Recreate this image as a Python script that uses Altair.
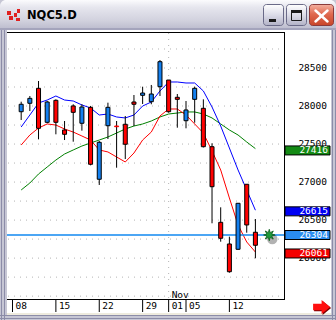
import math
import altair as alt
import pandas as pd

# ---------------- data ----------------
day_k = list(range(28))  # Oct 9 ... Nov 15 (trading days)
opens = [27925, 28036, 28233, 27786, 28075, 27685, 28001, 27773, 27983, 27037,
         27741, 27737, 27760, 28053, 28141, 28057, 28254, 28342, 28115, 27807,
         28088, 27970, 27465, 26471, 26186, 26116, 26971, 26340]
highs = [28057, 28132, 28329, 28066, 28088, 27803, 28023, 28023, 28001, 27540,
         28044, 27803, 27869, 28145, 28254, 28277, 28605, 28342, 28158, 28066,
         28254, 28088, 27510, 26668, 26282, 26721, 26971, 26514]
lows = [27816, 27934, 27562, 27773, 27628, 27553, 27531, 27676, 27220, 26962,
        27566, 27189, 27303, 27737, 28027, 28023, 28132, 27912, 27715, 27707,
        27781, 27455, 26458, 26216, 25808, 26110, 26334, 25998]
closes = [28023, 28101, 27707, 28053, 27786, 27628, 27917, 27987, 27234, 27523,
          27983, 27728, 27497, 28023, 28171, 28158, 28583, 27925, 28088, 27948,
          28233, 27465, 26939, 26261, 25821, 26721, 26436, 26169]
ma_blue = [27724, 27882, 28040, 28079, 28132, 28079, 28066, 28014, 27974, 27882,
           27895, 27856, 27843, 27882, 28000, 28053, 28198, 28316, 28316, 28303,
           28303, 28198, 27987, 27737, 27448, 27159, 26896, 26630]
ma_red = [27487, 27619, 27711, 27764, 27750, 27698, 27658, 27606, 27553, 27422,
          27396, 27330, 27264, 27382, 27553, 27658, 27869, 27961, 27961, 27882,
          27764, 27645, 27409, 27159, 26791, 26436, 26212, 26080]
ma_green = [26896, 26988, 27106, 27198, 27290, 27369, 27422, 27474, 27514, 27553,
            27593, 27645, 27698, 27737, 27764, 27803, 27856, 27895, 27908, 27922,
            27922, 27895, 27843, 27764, 27685, 27619, 27527, 27440]
last_price = 26304
badge_values = [27416, 26615, 26304, 26061]
badge_labels = ["27416", "26615", "26304", "26061"]
badge_colors = ["#148a14", "#0000f4", "#2a8cf0", "#f40000"]
price_ticks = [26000, 26500, 27000, 27500, 28000, 28500]
grid_levels = [25500, 25750, 26000, 26250, 26500, 26750, 27000, 27250,
               27500, 27750, 28000, 28250, 28500, 28750]
date_tick_k = [-1, 4, 9, 14, 17, 19, 24]
date_tick_text = ["08", "15", "22", "29", "01", "05", "12"]
month_k = [17]
month_text = ["Nov"]
marker_k = [28.6]

# ---------------- scales ----------------
xs = alt.Scale(domain=[-1, 29.778], range=[7.5, 284.5], zero=False, nice=False)
ys = alt.Scale(domain=[25462.4, 28973.45], range=[299, 32], zero=False, nice=False)

up_col, dn_col = "#1380f0", "#ff0000"
candles = pd.DataFrame({"k": day_k, "open": opens, "high": highs,
                        "low": lows, "close": closes})
candles["fill"] = [up_col if c > o else dn_col for o, c in zip(opens, closes)]
candles["edge"] = [dn_col if abs(c - o) < 15 else "#000000" for o, c in zip(opens, closes)]

one = pd.DataFrame({"z": [0]})


def X(f):
    return alt.X(f, type="quantitative", scale=xs, axis=None)


def Y(f):
    return alt.Y(f, type="quantitative", scale=ys, axis=None)


def box(x, x2, y, y2, **kw):
    return alt.Chart(one).mark_rect(**kw).encode(
        x=alt.value(x), x2=alt.value(x2), y=alt.value(y), y2=alt.value(y2))


def seg(x, y, x2, y2, **kw):
    return alt.Chart(one).mark_rule(**kw).encode(
        x=alt.value(x), x2=alt.value(x2), y=alt.value(y), y2=alt.value(y2))


def grad(stops):
    return alt.LinearGradient(
        gradient="linear",
        stops=[alt.GradientStop(color=c, offset=o) for o, c in stops],
        x1=0, x2=0, y1=0, y2=1)


layers = []
# ---------------- window chrome ----------------
layers.append(box(0, 336, 0, 320, color="#c6c6d4"))
for xx in (1, 4, 332, 335):
    layers.append(box(xx, xx + 1, 28, 320, color="#8c8ca8"))
for yy in (315, 318):
    layers.append(box(0, 336, yy, yy + 1, color="#8c8ca8"))
layers.append(box(0, 336, 0, 29, fill=grad([(0, "#fbfbfd"), (0.25, "#e6e6ee"),
                                             (0.7, "#d2d2de"), (1, "#bcbcce")]),
                  cornerRadiusTopLeft=6, cornerRadiusTopRight=6))
layers.append(box(0, 336, 28, 30, color="#a4a4bc"))
layers.append(box(7, 331, 30, 313, color="#ffffff"))
layers.append(box(7, 331, 313, 315, color="#eeebde"))
# icon
for (a, b, c, d) in [(7, 11, 11, 15), (9, 13, 16, 20), (14, 17, 13, 17),
                     (17, 20, 9, 13), (16, 20, 18, 21)]:
    layers.append(box(a, b, c, d, color="#e02020"))
layers.append(alt.Chart(one).mark_text(
    text="NQC5.D", align="left", baseline="middle", font="DejaVu Sans",
    fontSize=11.5, fontWeight="bold", color="#000000").encode(
    x=alt.value(27), y=alt.value(16)))
# buttons
btn = grad([(0, "#ffffff"), (0.5, "#dcdce8"), (1, "#b2b2c6")])
layers.append(box(263.5, 283.5, 4.5, 25.5, fill=btn, stroke="#6a6a88",
                  strokeWidth=1, cornerRadius=3))
layers.append(box(269, 276, 19, 22, color="#1a1a1a"))
layers.append(box(286.5, 306.5, 4.5, 25.5, fill=btn, stroke="#6a6a88",
                  strokeWidth=1, cornerRadius=3))
layers.append(box(291.5, 301.5, 10.5, 20.5, filled=False, stroke="#1a1a1a",
                  strokeWidth=1))
layers.append(box(291, 302, 10, 13, color="#1a1a1a"))
layers.append(box(309.5, 333.5, 4.5, 25.5,
                  fill=grad([(0, "#f4b0a0"), (0.45, "#e06a50"), (1, "#c84428")]),
                  stroke="#8a3a3a", strokeWidth=1, cornerRadius=3))
layers.append(seg(315.5, 10.5, 327.5, 21.5, color="#ffffff", strokeWidth=2.5,
                  strokeCap="round"))
layers.append(seg(315.5, 21.5, 327.5, 10.5, color="#ffffff", strokeWidth=2.5,
                  strokeCap="round"))

# ---------------- grid ----------------
grid_df = pd.DataFrame({"v": grid_levels})
layers.append(alt.Chart(grid_df).mark_rule(
    color="#b4b4b4", strokeWidth=1, strokeDash=[1, 5]).encode(
    y=Y("v"), x=alt.value(8), x2=alt.value(284)))
month_df = pd.DataFrame({"k": month_k, "t": month_text})
layers.append(alt.Chart(month_df).mark_rule(
    color="#b4b4b4", strokeWidth=1, strokeDash=[1, 5]).encode(
    x=X("k"), y=alt.value(33), y2=alt.value(299)))

# ---------------- moving averages ----------------
for vals, col in ((ma_green, "#008000"), (ma_red, "#ff0000"), (ma_blue, "#0000ff")):
    d = pd.DataFrame({"k": day_k, "v": vals})
    layers.append(alt.Chart(d).mark_line(color=col, strokeWidth=1).encode(
        x=X("k"), y=Y("v")))

# last price line
lp_df = pd.DataFrame({"v": [last_price]})
layers.append(alt.Chart(lp_df).mark_rule(color="#1088f0", strokeWidth=1.3).encode(
    y=Y("v"), x=alt.value(7), x2=alt.value(284)))

# ---------------- candles ----------------
layers.append(alt.Chart(candles).mark_rule(color="#000000", strokeWidth=1).encode(
    x=X("k"), y=Y("low"), y2=alt.Y2("high")))
layers.append(alt.Chart(candles).mark_bar(width=4, strokeWidth=1).encode(
    x=X("k"), y=Y("open"), y2=alt.Y2("close"),
    fill=alt.Fill("fill:N", scale=None), stroke=alt.Stroke("edge:N", scale=None)))

# marker at the last price
mk_df = pd.DataFrame({"k": marker_k, "v": [last_price]})
layers.append(alt.Chart(mk_df).mark_point(
    shape="circle", filled=True, color="#000000", opacity=0.3, size=110,
    xOffset=3, yOffset=4).encode(x=X("k"), y=Y("v")))
star_pts = []
for i in range(16):
    a = math.pi * i / 8
    r = 1.0 if i % 2 == 0 else 0.45
    star_pts.append(f"{r * math.cos(a):.3f},{r * math.sin(a):.3f}")
star_path = "M" + " L".join(star_pts) + " Z"
layers.append(alt.Chart(mk_df).mark_point(
    shape=star_path, filled=True, fill="#1e9a3a", stroke="#0b5c1c",
    strokeWidth=0.8, size=130, opacity=1).encode(x=X("k"), y=Y("v")))

# ---------------- frame & axes ----------------
layers.append(seg(7, 32.5, 284.5, 32.5, color="#000000", strokeWidth=1))
layers.append(seg(284.5, 32, 284.5, 300, color="#000000", strokeWidth=1))
layers.append(seg(7, 299.5, 284.5, 299.5, color="#000000", strokeWidth=1))
dt_df = pd.DataFrame({"k": date_tick_k, "t": date_tick_text})
layers.append(alt.Chart(dt_df).mark_rule(color="#000000", strokeWidth=1).encode(
    x=X("k"), y=alt.value(300), y2=alt.value(312)))
layers.append(alt.Chart(dt_df).mark_text(
    align="left", baseline="middle", font="DejaVu Sans Mono", fontSize=9.5,
    color="#000000", dx=3).encode(x=X("k"), y=alt.value(306), text="t:N"))
layers.append(alt.Chart(month_df).mark_text(
    align="left", baseline="middle", font="DejaVu Sans Mono", fontSize=9.5,
    color="#000000", dx=3).encode(x=X("k"), y=alt.value(295), text="t:N"))

pt_df = pd.DataFrame({"v": price_ticks, "t": [str(v) for v in price_ticks]})
layers.append(alt.Chart(pt_df).mark_text(
    align="right", baseline="middle", font="DejaVu Sans Mono", fontSize=9.5,
    color="#000000").encode(x=alt.value(327), y=Y("v"), text="t:N"))

badge_df = pd.DataFrame({"v": badge_values, "t": badge_labels, "c": badge_colors})
layers.append(alt.Chart(badge_df).mark_point(
    shape="M-1,-0.2 L1,-0.2 L1,0.2 L-1,0.2 Z", filled=True, size=2025,
    stroke="#000000", strokeWidth=1, opacity=1).encode(
    x=alt.value(307.5), y=Y("v"), fill=alt.Fill("c:N", scale=None)))
layers.append(alt.Chart(badge_df).mark_text(
    align="right", baseline="middle", font="DejaVu Sans Mono", fontSize=9.5,
    color="#ffffff").encode(x=alt.value(328), y=Y("v"), text="t:N"))

# red arrow (decoration)
arrow = "M-1,-0.38 L0,-0.38 L0,-0.82 L1,0 L0,0.82 L0,0.38 L-1,0.38 Z"
layers.append(alt.Chart(one).mark_point(
    shape=arrow, filled=True, color="#7a0000", size=289, opacity=1).encode(
    x=alt.value(322.6), y=alt.value(308)))
layers.append(alt.Chart(one).mark_point(
    shape=arrow, filled=True, color="#ff1010", size=289, opacity=1).encode(
    x=alt.value(321.6), y=alt.value(307)))

chart = alt.layer(*layers).properties(
    width=336, height=320, padding=0,
    autosize=alt.AutoSizeParams(type="none"),
).configure_view(strokeWidth=0)

chart.save("out.html", embed_options={"renderer": "svg", "actions": False})
